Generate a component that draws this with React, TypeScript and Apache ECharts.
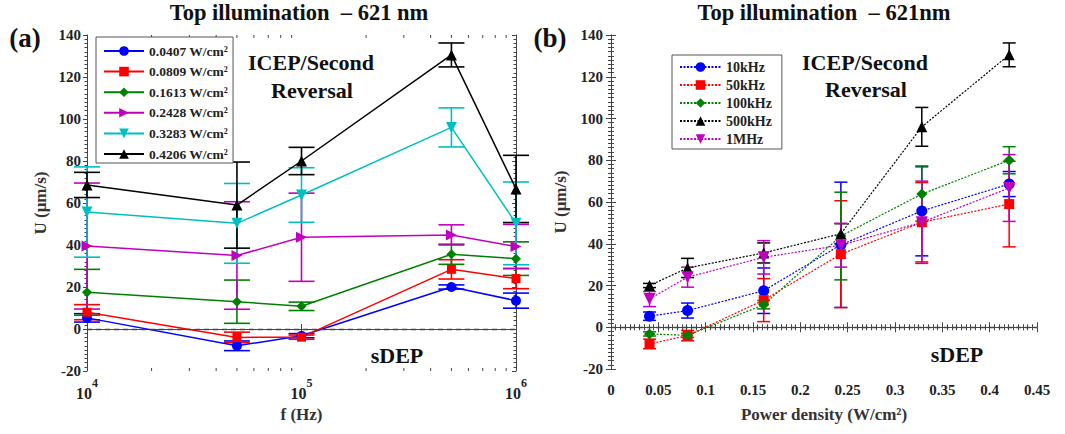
import React, { useEffect, useRef } from 'react';
import * as echarts from 'echarts';

const FONT = "'Liberation Serif', 'Times New Roman', serif";

// ---------- data ----------
const freqs = [1e4, 5e4, 1e5, 5e5, 1e6];
const powers = [0.0407, 0.0809, 0.1613, 0.2428, 0.3283, 0.4206];
const powerNames = ['0.0407 W/cm²', '0.0809 W/cm²', '0.1613 W/cm²', '0.2428 W/cm²', '0.3283 W/cm²', '0.4206 W/cm²'];
const freqNames = ['10kHz', '50kHz', '100kHz', '500kHz', '1MHz'];

// U (µm/s) per power density, at f = 10k, 50k, 100k, 500k, 1M Hz
const u0407 = [5.3, -8, -3.2, 20, 13.5];
const u0809 = [8, -4, -3.9, 28.4, 24];
const u1613 = [17.5, 13, 10.8, 35.6, 33.5];
const u2428 = [39.5, 35, 43.7, 44.8, 39.3];
const u3283 = [55.7, 50.3, 63.8, 96, 50.3];
const u4206 = [68.6, 59, 80, 130.5, 66.7];

// error half-widths
const e0407 = [2, 2.3, 1, 1, 3.6];
const e0809 = [3.6, 2.5, 1, 4.6, 4.8];
const e1613 = [10.9, 10.3, 2, 4.8, 8];
const e2428 = [30, 25.6, 21, 4.8, 10.5];
const e3283 = [21.5, 19, 13, 9.3, 19.7];
const e4206 = [6, 20.5, 6.5, 5.7, 16];

const logMinorTicks = [2e4, 3e4, 4e4, 5e4, 6e4, 7e4, 8e4, 9e4, 2e5, 3e5, 4e5, 5e5, 6e5, 7e5, 8e5, 9e5];

const uByPower = [u0407, u0809, u1613, u2428, u3283, u4206];
const eByPower = [e0407, e0809, e1613, e2428, e3283, e4206];

const powerColors = ['#0000ff', '#ff0000', '#008000', '#bf00bf', '#00bfbf', '#000000'];
const powerSymbols = ['circle', 'rect', 'diamond', 'triangle', 'triangle', 'triangle'];
const powerRot = [0, 0, 0, -90, 180, 0];
const powerSizes = [10, 9, 10, 11, 11, 11];
const freqColors = ['#0000ff', '#ff0000', '#008000', '#000000', '#bf00bf'];
const freqSymbols = ['circle', 'rect', 'diamond', 'triangle', 'triangle'];
const freqRot = [0, 0, 0, 0, 180];
const freqSizes = [11, 10, 11, 11, 12];

const AXIS_COLOR = '#444';

function errorRender(color: string, cap: number, lw: number) {
  return (params: any, api: any) => {
    const x = api.value(0);
    const lo = api.coord([x, api.value(1)]);
    const hi = api.coord([x, api.value(2)]);
    const hw = cap / 2;
    const style = { stroke: color, lineWidth: lw };
    return {
      type: 'group',
      children: [
        { type: 'line', shape: { x1: lo[0], y1: lo[1], x2: hi[0], y2: hi[1] }, style },
        { type: 'line', shape: { x1: lo[0] - hw, y1: lo[1], x2: lo[0] + hw, y2: lo[1] }, style },
        { type: 'line', shape: { x1: hi[0] - hw, y1: hi[1], x2: hi[0] + hw, y2: hi[1] }, style },
      ],
    };
  };
}

function buildOption() {
  const tickLabel = { fontFamily: FONT, fontWeight: 'bold' as const, fontSize: 15, color: '#222' };
  const series: any[] = [];

  // left panel
  uByPower.forEach((u, i) => {
    series.push({
      type: 'line',
      name: powerNames[i],
      xAxisIndex: 0,
      yAxisIndex: 0,
      data: freqs.map((f, j) => [f, u[j]]),
      symbol: powerSymbols[i],
      symbolSize: powerSizes[i],
      symbolRotate: powerRot[i],
      itemStyle: { color: powerColors[i] },
      lineStyle: { color: powerColors[i], width: 1.5 },
      z: 3,
      markLine: i === 0 ? {
        silent: true,
        symbol: ['none', 'none'],
        label: { show: false },
        lineStyle: { type: [5, 4], color: '#444', width: 1.3 },
        data: [{ yAxis: 0 }],
      } : undefined,
    });
    series.push({
      type: 'custom',
      name: 'errA' + i,
      xAxisIndex: 0,
      yAxisIndex: 0,
      data: freqs.map((f, j) => [f, u[j] - eByPower[i][j], u[j] + eByPower[i][j]]),
      encode: { x: 0, y: [1, 2] },
      renderItem: errorRender(powerColors[i], 26, 1.6),
      z: 2,
    });
  });

  // left log minor ticks
  series.push({
    type: 'custom',
    name: 'logMinor',
    xAxisIndex: 0,
    yAxisIndex: 0,
    data: logMinorTicks.map((v) => [v]),
    encode: { x: 0 },
    silent: true,
    renderItem: (params: any, api: any) => {
      const v = api.value(0);
      const b = api.coord([v, -20]);
      const t = api.coord([v, 140]);
      const style = { stroke: AXIS_COLOR, lineWidth: 1 };
      return {
        type: 'group',
        children: [
          { type: 'line', shape: { x1: b[0], y1: b[1], x2: b[0], y2: b[1] - 3 }, style },
          { type: 'line', shape: { x1: t[0], y1: t[1], x2: t[0], y2: t[1] + 3 }, style },
        ],
      };
    },
  });

  // right panel
  freqNames.forEach((name, k) => {
    const u = uByPower.map((arr) => arr[k]);
    const e = eByPower.map((arr) => arr[k]);
    series.push({
      type: 'line',
      name,
      xAxisIndex: 2,
      yAxisIndex: 2,
      data: powers.map((p, j) => [p, u[j]]),
      symbol: freqSymbols[k],
      symbolSize: freqSizes[k],
      symbolRotate: freqRot[k],
      itemStyle: { color: freqColors[k] },
      lineStyle: { color: freqColors[k], width: 1.2, type: [2, 1.5] },
      z: 3,
      markLine: k === 0 ? {
        silent: true,
        symbol: ['none', 'none'],
        label: { show: false },
        lineStyle: { type: [5, 4], color: '#444', width: 1.3 },
        data: [{ yAxis: 0 }],
      } : undefined,
    });
    series.push({
      type: 'custom',
      name: 'errB' + k,
      xAxisIndex: 2,
      yAxisIndex: 2,
      data: powers.map((p, j) => [p, u[j] - e[j], u[j] + e[j]]),
      encode: { x: 0, y: [1, 2] },
      renderItem: errorRender(freqColors[k], 13, 1.5),
      z: 2,
    });
  });

  const axisLine = { show: true, lineStyle: { color: AXIS_COLOR, width: 1 } };
  const nameStyle = { fontFamily: FONT, fontWeight: 'bold' as const, fontSize: 17, color: '#333' };

  const yBase = { type: 'value', min: -20, max: 140, interval: 20, splitLine: { show: false } };

  return {
    animation: false,
    backgroundColor: '#ffffff',
    grid: [
      { left: 87, top: 35, width: 429, height: 336 },
      { left: 611, top: 35, width: 426, height: 334 },
    ],
    xAxis: [
      {
        type: 'log', logBase: 10, min: 1e4, max: 1e6, gridIndex: 0, position: 'bottom',
        axisLine, splitLine: { show: false },
        axisTick: { inside: true, length: 5, lineStyle: { color: AXIS_COLOR } },
        axisLabel: {
          margin: 6,
          formatter: (v: number) => `{b|10}{e|${Math.round(Math.log10(v))}}`,
          rich: {
            b: { fontFamily: FONT, fontWeight: 'bold', fontSize: 16, color: '#222', verticalAlign: 'bottom', lineHeight: 24 },
            e: { fontFamily: FONT, fontWeight: 'bold', fontSize: 12, color: '#222', verticalAlign: 'top', lineHeight: 12 },
          },
        },
        name: 'f (Hz)', nameLocation: 'middle', nameGap: 33, nameTextStyle: nameStyle,
      },
      {
        type: 'log', logBase: 10, min: 1e4, max: 1e6, gridIndex: 0, position: 'top',
        axisLine, splitLine: { show: false },
        axisTick: { inside: true, length: 5, lineStyle: { color: AXIS_COLOR } },
        axisLabel: { show: false },
      },
      {
        type: 'value', min: 0, max: 0.45, interval: 0.05, gridIndex: 1, position: 'bottom',
        axisLine, splitLine: { show: false },
        axisTick: { inside: true, length: 5, lineStyle: { color: AXIS_COLOR } },
        minorTick: { show: true, splitNumber: 10, length: 3, lineStyle: { color: AXIS_COLOR } },
        axisLabel: { ...tickLabel, margin: 13 },
        name: 'Power density (W/cm²)', nameLocation: 'middle', nameGap: 37, nameTextStyle: nameStyle,
      },
      {
        type: 'value', min: 0, max: 0.45, interval: 0.05, gridIndex: 1, position: 'top',
        axisLine, splitLine: { show: false },
        axisTick: { inside: true, length: 5, lineStyle: { color: AXIS_COLOR } },
        minorTick: { show: true, splitNumber: 10, length: 3, lineStyle: { color: AXIS_COLOR } },
        axisLabel: { show: false },
      },
    ],
    yAxis: [
      {
        ...yBase, gridIndex: 0, position: 'left', axisLine,
        axisTick: { inside: false, length: 4, lineStyle: { color: AXIS_COLOR } },
        minorTick: { show: true, splitNumber: 10, length: 2.5, lineStyle: { color: AXIS_COLOR } },
        axisLabel: { ...tickLabel, margin: 6 },
        name: 'U (μm/s)', nameLocation: 'middle', nameGap: 38, nameTextStyle: nameStyle,
      },
      {
        ...yBase, gridIndex: 0, position: 'right', axisLine,
        axisTick: { inside: true, length: 4, lineStyle: { color: AXIS_COLOR } },
        minorTick: { show: true, splitNumber: 10, length: 2.5, lineStyle: { color: AXIS_COLOR } },
        axisLabel: { show: false },
      },
      {
        ...yBase, gridIndex: 1, position: 'left', axisLine,
        axisTick: { inside: true, length: 5, lineStyle: { color: AXIS_COLOR } },
        minorTick: { show: true, splitNumber: 10, length: 3, lineStyle: { color: AXIS_COLOR } },
        axisLabel: { ...tickLabel, margin: 8 },
        name: 'U (μm/s)', nameLocation: 'middle', nameGap: 42, nameTextStyle: nameStyle,
      },
      {
        ...yBase, gridIndex: 1, position: 'right', axisLine,
        axisTick: { inside: true, length: 5, lineStyle: { color: AXIS_COLOR } },
        minorTick: { show: true, splitNumber: 10, length: 3, lineStyle: { color: AXIS_COLOR } },
        axisLabel: { show: false },
      },
    ],
    legend: [
      {
        data: powerNames,
        orient: 'vertical',
        left: 96,
        top: 37,
        itemWidth: 40,
        itemHeight: 12,
        itemGap: 6.6,
        padding: [7, 5, 2, 7],
        borderColor: '#555',
        borderWidth: 1,
        backgroundColor: '#fff',
        selectedMode: false,
        textStyle: { fontFamily: FONT, fontWeight: 'bold', fontSize: 13.5, color: '#222', lineHeight: 14 },
      },
      {
        data: freqNames,
        orient: 'vertical',
        left: 672,
        top: 55,
        itemWidth: 41,
        itemHeight: 12,
        itemGap: 4,
        padding: [5, 10, 3, 7],
        borderColor: '#555',
        borderWidth: 1,
        backgroundColor: '#fff',
        selectedMode: false,
        textStyle: { fontFamily: FONT, fontWeight: 'bold', fontSize: 14, color: '#222', lineHeight: 13 },
      },
    ],
    graphic: [
      { type: 'text', x: 299, y: 12, style: { text: 'Top illumination  – 621 nm', font: `bold 22.5px ${FONT}`, fill: '#111', align: 'center', verticalAlign: 'middle' } },
      { type: 'text', x: 824, y: 12, style: { text: 'Top illumination  – 621nm', font: `bold 22.5px ${FONT}`, fill: '#111', align: 'center', verticalAlign: 'middle' } },
      { type: 'text', x: 25, y: 38, style: { text: '(a)', font: `bold 27px ${FONT}`, fill: '#111', align: 'center', verticalAlign: 'middle' } },
      { type: 'text', x: 550, y: 38, style: { text: '(b)', font: `bold 27px ${FONT}`, fill: '#111', align: 'center', verticalAlign: 'middle' } },
      { type: 'text', x: 311, y: 62, style: { text: 'ICEP/Second', font: `bold 22px ${FONT}`, fill: '#111', align: 'center', verticalAlign: 'middle' } },
      { type: 'text', x: 312, y: 90, style: { text: 'Reversal', font: `bold 22px ${FONT}`, fill: '#111', align: 'center', verticalAlign: 'middle' } },
      { type: 'text', x: 397, y: 355, style: { text: 'sDEP', font: `bold 22px ${FONT}`, fill: '#111', align: 'center', verticalAlign: 'middle' } },
      { type: 'text', x: 865, y: 62, style: { text: 'ICEP/Second', font: `bold 22px ${FONT}`, fill: '#111', align: 'center', verticalAlign: 'middle' } },
      { type: 'text', x: 866, y: 89, style: { text: 'Reversal', font: `bold 22px ${FONT}`, fill: '#111', align: 'center', verticalAlign: 'middle' } },
      { type: 'text', x: 957, y: 354, style: { text: 'sDEP', font: `bold 22px ${FONT}`, fill: '#111', align: 'center', verticalAlign: 'middle' } },
    ],
    series,
  };
}

export default function App() {
  const ref = useRef<HTMLDivElement>(null);
  useEffect(() => {
    document.body.style.margin = '0';
    const chart = echarts.init(ref.current!, undefined, { renderer: 'svg' });
    chart.setOption(buildOption() as any);
    return () => chart.dispose();
  }, []);
  return <div ref={ref} style={{ width: 1065, height: 434, background: '#fff' }} />;
}
